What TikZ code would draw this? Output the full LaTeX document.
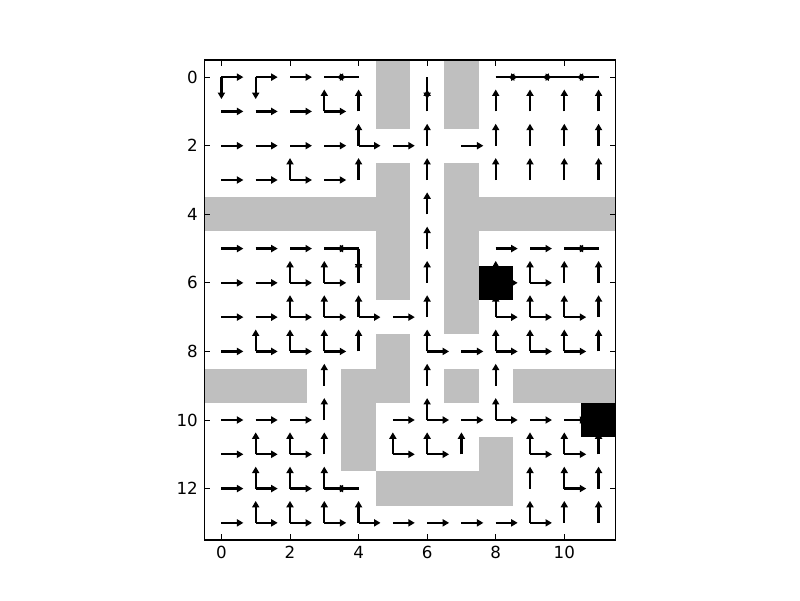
\documentclass[tikz,border=0pt]{standalone}
\usepackage{fontspec}
\setmainfont{DejaVu Sans}
\usepackage{tikz}
\usetikzlibrary{arrows.meta}
\definecolor{Wall}{HTML}{BFBFBF}
\tikzset{
    % Blocked cells and goal cells
    wallcell/.style={
        fill=Wall,
        draw=none
    },
    goalcell/.style={
        fill=black,
        draw=none
    },
    move/.style={
        -{Triangle[length=3.2pt,width=3.5pt]},
        line width=1.1pt,
        color=black
    },
    frame/.style={
        draw=black,
        line width=0.7pt
    },
    axtick/.style={
        draw=black,
        line width=0.5pt
    },
    ticklabel/.style={
        inner sep=0pt,
        font=\fontsize{8.3}{10}\selectfont
    }
}

\begin{document}
\begin{tikzpicture}[
                    x=0.6cm,
                    y=-0.6cm
                ]
    \useasboundingbox (-6.4583,-2.25) rectangle (16.875,15.25);

    % walls
    \fill[wallcell] (4.5,-0.5) rectangle (5.5,1.5);
    \fill[wallcell] (6.5,-0.5) rectangle (7.5,1.5);
    \fill[wallcell] (4.5,2.5) rectangle (5.5,6.5);
    \fill[wallcell] (-0.5,3.5) rectangle (5.5,4.5);
    \fill[wallcell] (6.5,2.5) rectangle (7.5,7.5);
    \fill[wallcell] (7.5,3.5) rectangle (11.5,4.5);
    \fill[wallcell] (4.5,7.5) rectangle (5.5,9.5);
    \fill[wallcell] (3.5,8.5) rectangle (4.5,11.5);
    \fill[wallcell] (-0.5,8.5) rectangle (2.5,9.5);
    \fill[wallcell] (6.5,8.5) rectangle (7.5,9.5);
    \fill[wallcell] (8.5,8.5) rectangle (11.5,9.5);
    \fill[wallcell] (4.5,11.5) rectangle (8.5,12.5);
    \fill[wallcell] (7.5,10.5) rectangle (8.5,11.5);

    % policy: right, up, down, left
    \foreach \r/\cols in {0/{0,1,2,3,8,9,10}, 1/{0,1,2,3}, 2/{0,1,2,3,4,5,7},
        3/{0,1,2,3}, 5/{0,1,2,3,8,9,10}, 6/{0,1,2,3,8,9},
        7/{0,1,2,3,4,5,8,9,10}, 8/{0,1,2,3,6,7,8,9,10},
        10/{0,1,2,5,6,7,8,9,10}, 11/{0,1,2,5,6,9,10},
        12/{0,1,2,3,10}, 13/{0,1,2,3,4,5,6,7,8,9}}
        \foreach \c in \cols
            \draw[move] (\c,\r) -- ++(0.64,0);
    \foreach \r/\cols in {1/{3,4,6,8,9,10,11}, 2/{4,6,8,9,10,11},
        3/{2,4,6,8,9,10,11}, 4/{6}, 5/{6}, 6/{2,3,4,6,8,9,10,11},
        7/{2,3,4,6,8,9,10,11}, 8/{1,2,3,4,6,8,9,10,11}, 9/{3,6,8},
        10/{3,6,8}, 11/{1,2,3,5,6,7,9,10,11}, 12/{1,2,3,9,10,11},
        13/{1,2,3,4,9,10,11}}
        \foreach \c in \cols
            \draw[move] (\c,\r) -- ++(0,-0.64);
    \foreach \c/\r in {0/0, 1/0, 6/0, 4/5}
        \draw[move] (\c,\r) -- ++(0,0.64);
    \foreach \c/\r in {4/0, 9/0, 10/0, 11/0, 4/5, 11/5, 4/12}
        \draw[move] (\c,\r) -- ++(-0.64,0);

    % goals
    \fill[goalcell] (7.5,5.5) rectangle (8.5,6.5);
    \fill[goalcell] (10.5,9.5) rectangle (11.5,10.5);

    % axes
    \foreach \i in {0,2,...,10} {
        \draw[axtick] (\i,13.5) -- ++(0,-0.17);
        \draw[axtick] (\i,-0.5) -- ++(0,0.17);
        \node[ticklabel, anchor=north] (xl\i) at (\i,13.68) {\i};
    }
    \foreach \j in {0,2,...,12} {
        \draw[axtick] (-0.5,\j) -- ++(0.17,0);
        \draw[axtick] (11.5,\j) -- ++(-0.17,0);
        \node[ticklabel, anchor=east] (yl\j) at (-0.68,\j) {\j};
    }
    \draw[frame] (-0.5,-0.5) rectangle (11.5,13.5);
\end{tikzpicture}
\end{document}
